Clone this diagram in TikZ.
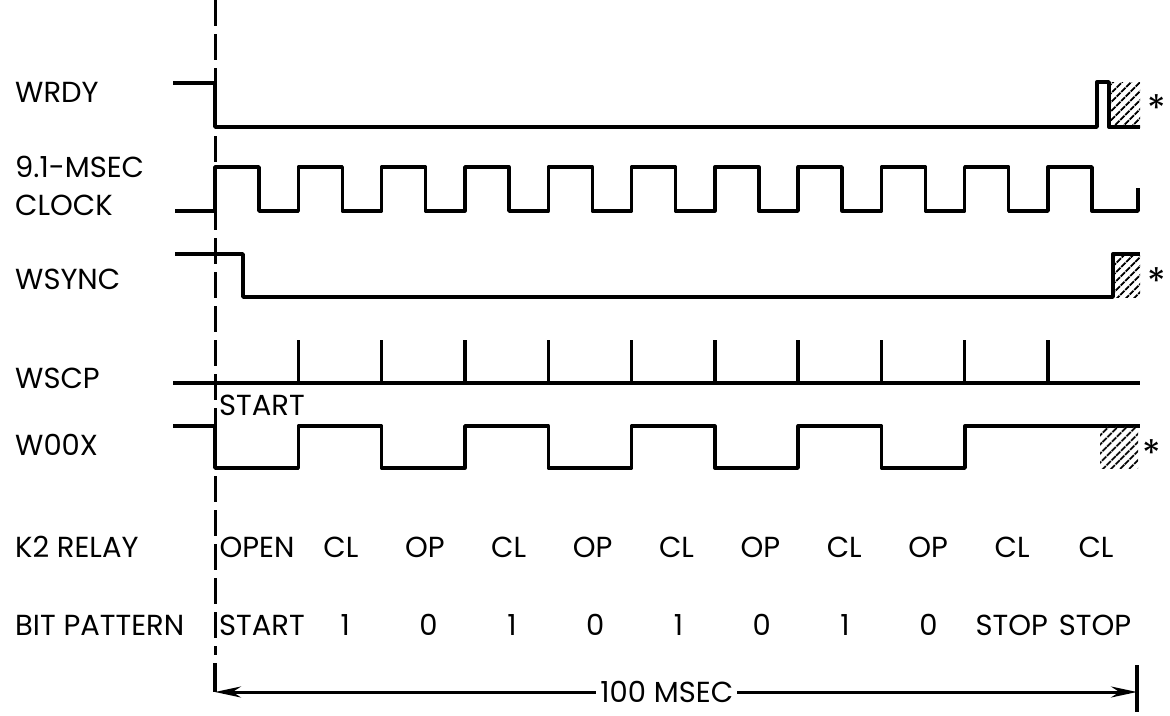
\documentclass[tikz,border=0pt]{standalone}
\usepackage{fontspec}
\setmainfont{Poppins}
\usetikzlibrary{arrows.meta}
\usetikzlibrary{patterns.meta}

\tikzset{
  wave/.style={black, line width=3.4pt, line join=round},
  sig/.style={anchor=west, inner sep=0pt, font=\fontsize{29}{31}\selectfont},
  cell/.style={inner sep=0pt, font=\fontsize{29}{31}\selectfont},
  star/.style={inner sep=0pt, font=\fontsize{38}{40}\selectfont},
  hatchbox/.style={pattern={Lines[angle=45,distance=6.5pt,line width=2pt]}},
}

\begin{document}
\begin{tikzpicture}[x=1pt,y=-1pt]
\useasboundingbox (0,0) rectangle (1170,715);
% signal names
\node[sig] (wrdy) at (15,92) {WRDY};
\node[sig] (clka) at (15,167) {9.1-MSEC};
\node[sig] (clkb) at (15,205) {CLOCK};
\node[sig] (wsync) at (15,279) {WSYNC};
\node[sig] (wscp) at (15,378) {WSCP};
\node[sig] (woox) at (15,445) {W00X};
\node[sig] (relay) at (15,547) {K2 RELAY};
\node[sig] (bits) at (15,625) {BIT PATTERN};
% start line
\draw[black, line width=3pt, dash pattern=on 26pt off 8pt] (215,0)--(215,655);
% WRDY
\draw[wave] (173,83)--(215,83)--(215,127)--(1097,127)--(1097,82)--(1109,82)--(1109,127)--(1140,127);
\fill[hatchbox] (1110,82) rectangle (1140,127);
\node[star] (s1) at (1157,109) {*};
% clock
\draw[wave] (175,211)
  \foreach \k in {0,...,10} {
    --({215+83.3*\k},211)--({215+83.3*\k},167)--({259+83.3*\k},167)--({259+83.3*\k},211)
  } --(1138,211)--(1138,188);
% WSYNC
\draw[wave] (175,254)--(243,254)--(243,297)--(1113,297)--(1113,254)--(1140,254);
\fill[hatchbox] (1113,254) rectangle (1140,297);
\node[star] (s2) at (1157,282) {*};
% WSCP
\draw[wave] (173,383)--(1140,383);
\foreach \k in {1,...,10} {
 \draw[wave] ({215+83.3*\k},383) --++(0,-43);
}
\node[sig] (start) at (219,405) {START};
% W00X
\draw[wave] (173,426)--(215,426)--(215,468)
  \foreach \k in {1,3,5,7} {
    --({215+83.3*\k},468)--({215+83.3*\k},426)--({298.3+83.3*\k},426)--({298.3+83.3*\k},468)
  } --(965,468)--(965,426)--(1140,426);
\fill[hatchbox] (1100,426) rectangle (1138,468);
\node[star] (s3) at (1152,454) {*};
% relay and bits
\foreach \t [count=\k from 0] in {OPEN,CL,OP,CL,OP,CL,OP,CL,OP,CL,CL} {
 \node[cell] (k2-\k) at ({257+83.3*\k+0.6*\k},547) {\t};
}
\foreach \t [count=\k from 0] in {START,1,0,1,0,1,0,1,0,STOP,STOP} {
 \node[cell] (bit-\k) at ({262+83.3*\k},625) {\t};
}
% 100 msec
\coordinate (t0) at (215,692);
\coordinate (t1) at (1137,692);
\draw[wave] (215,663)--(t0);
\draw[black, line width=3pt, {Stealth[length=26pt,width=11pt]}-{Stealth[length=26pt,width=11pt]}] (t0)--(t1)
  node[cell, pos=.49, fill=white, inner xsep=4pt, inner ysep=2pt] (span) {100 MSEC};
\draw[wave] (1137,665)--(1137,712);
\end{tikzpicture}
\end{document}
